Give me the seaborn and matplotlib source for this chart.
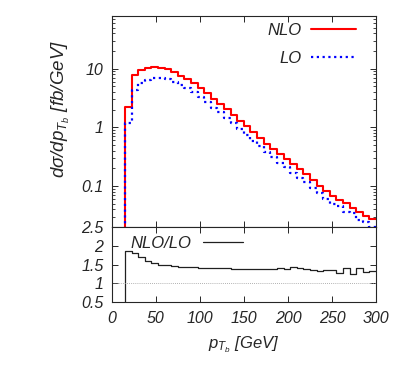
import matplotlib
matplotlib.use("Agg")
import matplotlib.pyplot as plt
import matplotlib.ticker as mticker
import numpy as np
import pandas as pd
import seaborn as sns

# bins of 7.5 GeV from 15 to 300 GeV
edges = np.arange(15, 300.1, 7.5)

nlo = [2.2, 7.8, 9.6, 10.2, 10.6, 10.3, 9.7, 8.7, 7.6, 6.7,
       5.7, 4.7, 3.8, 3.05, 2.5, 2.05, 1.62, 1.30, 1.04, 0.82,
       0.67, 0.53, 0.43, 0.35, 0.29, 0.235, 0.195, 0.16, 0.125, 0.101,
       0.083, 0.068, 0.058, 0.051, 0.042, 0.036, 0.031, 0.027]

lo = [1.18, 4.38, 5.75, 6.38, 6.88, 6.87, 6.55, 5.96, 5.24, 4.65,
      3.99, 3.31, 2.70, 2.16, 1.79, 1.46, 1.17, 0.935, 0.75, 0.594,
      0.486, 0.384, 0.312, 0.248, 0.209, 0.164, 0.138, 0.116, 0.093, 0.076,
      0.061, 0.050, 0.046, 0.036, 0.034, 0.026, 0.024, 0.020]

ratio = [1.87, 1.80, 1.69, 1.61, 1.54, 1.50, 1.48, 1.46, 1.45, 1.44,
         1.43, 1.42, 1.41, 1.41, 1.40, 1.40, 1.39, 1.39, 1.39, 1.38,
         1.38, 1.38, 1.38, 1.41, 1.39, 1.43, 1.41, 1.38, 1.35, 1.33,
         1.36, 1.37, 1.27, 1.41, 1.24, 1.40, 1.31, 1.34]

yticks_main = [0.1, 1, 10]
yticks_ratio = [0.5, 1, 1.5, 2, 2.5]
xticks = [0, 50, 100, 150, 200, 250, 300]


def step_frame(vals, floor):
    # histogram outline: start from the floor at the first edge, repeat last value at the end
    x = np.concatenate([[edges[0]], edges])
    y = np.concatenate([[floor], vals, [vals[-1]]])
    return pd.DataFrame({"x": x, "y": y})


sns.set_style("ticks")
plt.rcParams["font.family"] = ["Liberation Sans", "DejaVu Sans"]
plt.rcParams["font.style"] = "italic"
plt.rcParams["mathtext.fontset"] = "custom"
plt.rcParams["mathtext.it"] = "Liberation Sans:italic"
plt.rcParams["mathtext.rm"] = "Liberation Sans:italic"
plt.rcParams["mathtext.sf"] = "Liberation Sans:italic"
plt.rcParams["axes.linewidth"] = 0.8

fig = plt.figure(figsize=(4.07, 3.70), dpi=100)
ax = fig.add_axes([0.2745, 0.3865, 0.6494, 0.5711])
axr = fig.add_axes([0.2745, 0.183, 0.6494, 0.2035])

sns.lineplot(data=step_frame(nlo, 1e-4), x="x", y="y", ax=ax, color="#ff0000",
             lw=1.5, drawstyle="steps-post", sort=False, estimator=None, label="NLO")
sns.lineplot(data=step_frame(lo, 1e-4), x="x", y="y", ax=ax, color="#0000ff",
             lw=1.6, linestyle=(0, (1, 1.6)), drawstyle="steps-post", sort=False,
             estimator=None, label="LO")
ax.set_yscale("log")
ax.set_xlim(0, 300)
ax.set_ylim(0.02, 80)
ax.set_yticks(yticks_main)
ax.yaxis.set_major_formatter(mticker.FuncFormatter(lambda v, p: "%g" % v))
ax.yaxis.set_minor_locator(mticker.LogLocator(base=10, subs=np.arange(2, 10)))
ax.yaxis.set_minor_formatter(mticker.NullFormatter())
ax.set_xticks(xticks)
ax.set_xticklabels([])
ax.set_xlabel("")
ax.set_ylabel(r"$d\sigma/dp_{T_b}$ [fb/GeV]", fontsize=13.5)
ax.yaxis.set_label_coords(-0.15, 0.56)
ax.tick_params(which="both", direction="in", top=True, right=True, labelsize=11.5, pad=6)
ax.tick_params(which="major", length=4, width=0.7)
ax.tick_params(which="minor", length=2.2, width=0.6)
ax.legend(loc="upper right", bbox_to_anchor=(0.924, 0.965), markerfirst=False,
          frameon=False, fontsize=12, handlelength=2.7, handletextpad=0.55,
          labelspacing=0.75, borderpad=0, borderaxespad=0)

sns.lineplot(data=step_frame(ratio, 0.0), x="x", y="y", ax=axr, color="#202020",
             lw=0.9, drawstyle="steps-post", sort=False, estimator=None, label="NLO/LO")
axr.axhline(1, color="#999999", lw=0.6, linestyle=(0, (1, 1.5)))
axr.set_xlim(0, 300)
axr.set_ylim(0.5, 2.5)
axr.set_yticks(yticks_ratio)
axr.yaxis.set_major_formatter(mticker.FuncFormatter(lambda v, p: "%g" % v))
axr.set_xticks(xticks)
axr.set_xlabel(r"$p_{T_b}$ [GeV]", fontsize=12, labelpad=6)
axr.set_ylabel("")
axr.tick_params(which="both", direction="in", top=True, right=True, labelsize=11.5, pad=6)
axr.tick_params(which="major", length=4, width=0.7)
axr.legend(loc="upper left", bbox_to_anchor=(0.072, 0.88), markerfirst=False,
           frameon=False, fontsize=12, handlelength=2.4, handletextpad=0.7,
           borderpad=0, borderaxespad=0)

fig.savefig("out.png", dpi=100)
